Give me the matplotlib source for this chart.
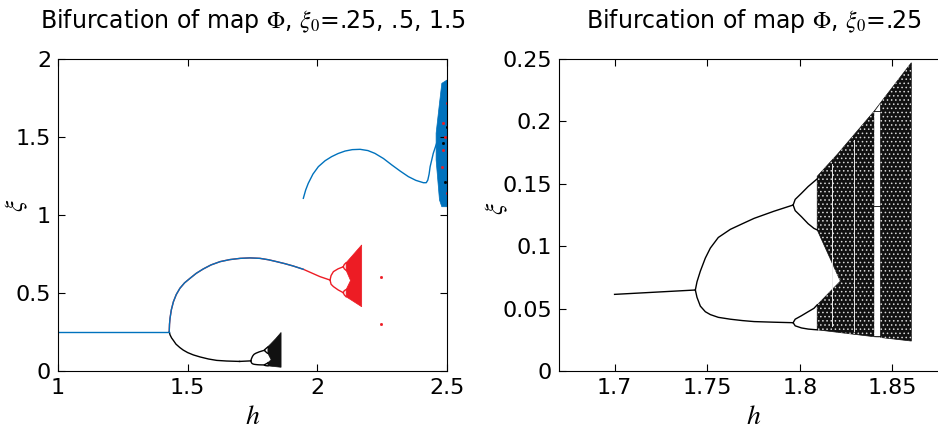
import matplotlib
matplotlib.use('Agg')
import matplotlib.pyplot as plt

plt.rcParams['font.family'] = ['DejaVu Sans']
plt.rcParams['mathtext.fontset'] = 'stix'
plt.rcParams['hatch.linewidth'] = 0.6

BLUE = '#0072BD'
RED = '#ED1C24'
CHAOS = '#111111'

# fixed point reached by all three starting values
fixed_h = [1.0, 1.429]
fixed_xi = [0.252, 0.252]

# xi0 = .25 : branch dropping from the fixed point
drop_h = [1.429, 1.432, 1.438, 1.445, 1.455, 1.470, 1.483, 1.500, 1.522, 1.548, 1.580, 1.612, 1.650, 1.700]
drop_xi = [0.252, 0.232, 0.212, 0.196, 0.172, 0.150, 0.134, 0.118, 0.103, 0.090, 0.077, 0.068, 0.064, 0.0614]

# xi0 = .25 : period 1, 2 and 4 (right panel)
p1_h = [1.700, 1.7436]
p1_xi = [0.0614, 0.0649]
p2_h = [1.7436, 1.7445, 1.7463, 1.749, 1.7517, 1.756, 1.7625, 1.769, 1.7753, 1.786, 1.7964]
p2_up = [0.0649, 0.0715, 0.0800, 0.0905, 0.0985, 0.1070, 0.1135, 0.1180, 0.1223, 0.1280, 0.1330]
p2_lo = [0.0649, 0.0590, 0.0520, 0.0475, 0.0452, 0.0430, 0.0415, 0.0404, 0.0396, 0.0391, 0.0387]
p4_h = [1.7964, 1.7975, 1.8009, 1.8045, 1.8076, 1.8094]
p4_uu = [0.1330, 0.1375, 0.1424, 0.1478, 0.1517, 0.1540]
p4_ul = [0.1330, 0.1285, 0.1236, 0.1180, 0.1143, 0.1130]
p4_lu = [0.0387, 0.0415, 0.0443, 0.0475, 0.0502, 0.0530]
p4_ll = [0.0387, 0.0362, 0.0345, 0.0336, 0.0332, 0.0330]

# xi0 = .25 : chaotic band outline (with gap between the two bands)
chaos_h = [1.8094, 1.8202, 1.8399, 1.8602, 1.8602, 1.8399, 1.8094, 1.8094, 1.8219, 1.8094]
chaos_xi = [0.1560, 0.1735, 0.2078, 0.2470, 0.0240, 0.0275, 0.0330, 0.0530, 0.0720, 0.1130]

# periodic windows inside the chaos
win_h = [1.8172, 1.8294]
win_lo = [0.036, 0.032]
win_hi = [0.166, 0.185]
bigwin_h = [1.8399, 1.8431]
bigwin_lo = [0.0275, 0.0270]
bigwin_hi = [0.2078, 0.2145]
bigwin_orbit = [0.208, 0.132, 0.028]

# xi0 = .5 : loop from the fixed point up to the period doubling
loop_h = [1.429, 1.430, 1.432, 1.437, 1.445, 1.456, 1.470, 1.488, 1.509, 1.533, 1.560, 1.590,
          1.625, 1.662, 1.702, 1.740, 1.779, 1.812, 1.843, 1.875, 1.907, 1.946, 2.010, 2.049]
loop_xi = [0.256, 0.300, 0.338, 0.392, 0.444, 0.490, 0.530, 0.565, 0.594, 0.626, 0.654, 0.680,
           0.701, 0.714, 0.722, 0.725, 0.722, 0.713, 0.701, 0.688, 0.673, 0.652, 0.605, 0.583]
blue_leaves_at = 22  # xi0 = 1.5 follows the loop up to h = 1.946

red_p2_h = [2.049, 2.053, 2.062, 2.080, 2.100]
red_p2_up = [0.583, 0.612, 0.637, 0.655, 0.668]
red_p2_lo = [0.583, 0.556, 0.541, 0.520, 0.502]
red_p4_h = [2.100, 2.104, 2.111]
red_p4_uu = [0.668, 0.683, 0.694]
red_p4_ul = [0.668, 0.655, 0.645]
red_p4_lu = [0.502, 0.515, 0.522]
red_p4_ll = [0.502, 0.488, 0.476]
red_chaos_h = [2.111, 2.171, 2.171, 2.111, 2.111, 2.128, 2.111]
red_chaos_xi = [0.694, 0.808, 0.412, 0.476, 0.522, 0.580, 0.645]
red_dot_h = [2.244, 2.244, 2.486, 2.492, 2.480, 2.499, 2.486, 2.499]
red_dot_xi = [0.604, 0.301, 1.588, 1.502, 1.310, 1.139, 1.417, 1.716]

# xi0 = 1.5 : upper branch
up_h = [1.946, 1.955, 1.965, 1.983, 2.004, 2.030, 2.055, 2.080, 2.107, 2.135, 2.165, 2.195,
        2.222, 2.255, 2.287, 2.320, 2.351, 2.380, 2.409, 2.420, 2.426, 2.431, 2.435, 2.441,
        2.447, 2.460]
up_xi = [1.107, 1.160, 1.203, 1.262, 1.310, 1.348, 1.374, 1.394, 1.410, 1.419, 1.421, 1.413,
         1.395, 1.362, 1.321, 1.281, 1.246, 1.222, 1.207, 1.207, 1.224, 1.262, 1.310, 1.352,
         1.395, 1.460]
blue_chaos_h = [2.458, 2.471, 2.480, 2.500, 2.500, 2.480, 2.471, 2.458]
blue_chaos_xi = [1.524, 1.716, 1.844, 1.865, 1.053, 1.053, 1.096, 1.353]
black_dot_h = [2.499, 2.492, 2.486]
black_dot_xi = [1.566, 1.213, 1.460]


def style_axes(ax, xlim, ylim, xticks, xlabels, yticks, ylabels):
    ax.set_xlim(xlim)
    ax.set_ylim(ylim)
    ax.set_xticks(xticks)
    ax.set_xticklabels(xlabels)
    ax.set_yticks(yticks)
    ax.set_yticklabels(ylabels)
    ax.tick_params(direction='in', top=True, right=True, length=5, width=0.8,
                   pad=5, labelsize=16)
    for s in ax.spines.values():
        s.set_linewidth(0.8)
    ax.set_xlabel('$h$', fontsize=20)
    ax.set_ylabel(r'$\xi$', fontsize=18)


def draw_black(ax, windows=True):
    kw = dict(color='black', lw=1.0)
    ax.plot(p1_h, p1_xi, **kw)
    for branch in (p2_up, p2_lo):
        ax.plot(p2_h, branch, **kw)
    for branch in (p4_uu, p4_ul, p4_lu, p4_ll):
        ax.plot(p4_h, branch, **kw)
    ax.fill(chaos_h, chaos_xi, color=CHAOS, lw=0.5)
    if windows:
        # speckled look of the chaotic region
        ax.fill(chaos_h, chaos_xi, facecolor='none', edgecolor='#d8d8d8',
                hatch='....', lw=0)
        for h, lo, hi in zip(win_h, win_lo, win_hi):
            ax.plot([h, h], [lo, hi], color='#e8e8e8', lw=0.7)
        ax.fill_between(bigwin_h, bigwin_lo, bigwin_hi, color='white', lw=0)
        for y in bigwin_orbit:
            ax.plot(bigwin_h, [y, y], color='black', lw=0.6)


fig = plt.figure(figsize=(9.38, 4.29), dpi=100)
ax1 = fig.add_axes([58 / 938, 58 / 429, 389 / 938, 312 / 429])
ax2 = fig.add_axes([559 / 938, 58 / 429, 389 / 938, 312 / 429])

# left panel: three starting values
ax1.plot(drop_h, drop_xi, color='black', lw=1.0)
draw_black(ax1, windows=False)

ax1.plot(loop_h, loop_xi, color=RED, lw=1.0)
for branch in (red_p2_up, red_p2_lo):
    ax1.plot(red_p2_h, branch, color=RED, lw=1.0)
for branch in (red_p4_uu, red_p4_ul, red_p4_lu, red_p4_ll):
    ax1.plot(red_p4_h, branch, color=RED, lw=1.0)
ax1.fill(red_chaos_h, red_chaos_xi, color=RED, lw=0.5)

ax1.fill(blue_chaos_h, blue_chaos_xi, color=BLUE, lw=0.5)
ax1.plot(fixed_h, fixed_xi, color=BLUE, lw=1.0)
ax1.plot(loop_h[:blue_leaves_at], loop_xi[:blue_leaves_at], color=BLUE, lw=1.0)
ax1.plot(up_h, up_xi, color=BLUE, lw=1.0)
ax1.plot(red_dot_h, red_dot_xi, 's', color=RED, ms=1.0)
ax1.plot(black_dot_h, black_dot_xi, 's', color='black', ms=1.0)

style_axes(ax1, (1, 2.5), (0, 2), [1, 1.5, 2, 2.5], ['1', '1.5', '2', '2.5'],
           [0, 0.5, 1, 1.5, 2], ['0', '0.5', '1', '1.5', '2'])
ax1.set_title(r'Bifurcation of map $\Phi$, $\xi_0$=.25, .5, 1.5', fontsize=17, pad=22)

# right panel: zoom on xi0 = .25
draw_black(ax2)
style_axes(ax2, (1.67, 1.88), (0, 0.25), [1.7, 1.75, 1.8, 1.85],
           ['1.7', '1.75', '1.8', '1.85'],
           [0, 0.05, 0.1, 0.15, 0.2, 0.25], ['0', '0.05', '0.1', '0.15', '0.2', '0.25'])
ax2.set_title(r'Bifurcation of map $\Phi$, $\xi_0$=.25', fontsize=17, pad=22)

ax1.xaxis.set_label_coords(0.5, -0.1)
ax2.xaxis.set_label_coords(0.5, -0.1)
ax1.yaxis.set_label_coords(-0.072, 0.53)
ax2.yaxis.set_label_coords(-0.125, 0.52)

fig.savefig('out.png', dpi=100)
